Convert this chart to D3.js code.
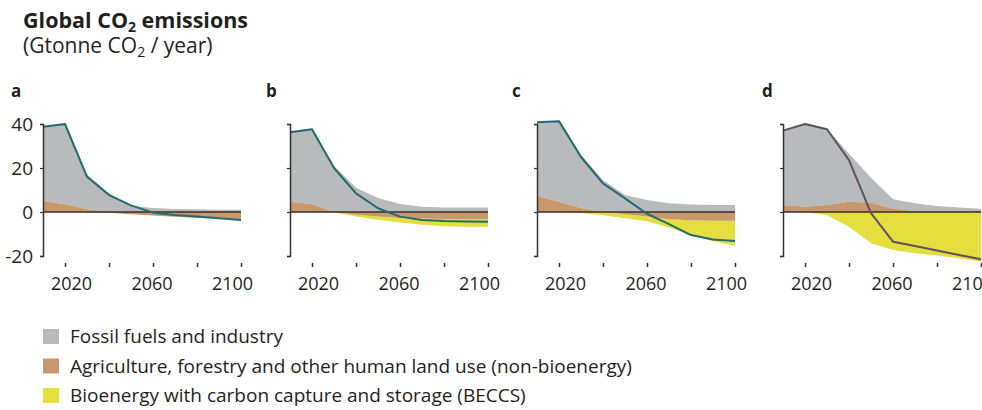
<!DOCTYPE html>
<html>
<head>
<meta charset="utf-8">
<script src="https://cdn.jsdelivr.net/npm/d3@7"></script>
<style>
  body { margin: 0; background: #fff; }
  svg { font-family: "Open Sans", sans-serif; fill: #231f20; }
</style>
</head>
<body>
<div id="chart"></div>
<script>
// years shared by all four pathways
var years = [2010, 2020, 2030, 2040, 2050, 2060, 2070, 2080, 2090, 2100];
var xTicks = [2020, 2040, 2060, 2080, 2100];
var xTickLabels = [2020, 2060, 2100];
var yTicks = [40, 20, 0, -20];
var panelLetters = ["a", "b", "c", "d"];

// Gt CO2 / year
var fossilA = [33.8, 36.5, 15.8, 8.5, 2.8, 1.8, 1.4, 1.2, 1.0, 1.0];
var landA   = [5.0, 3.5, 1.2, -0.3, -1.0, -1.6, -2.2, -2.7, -3.0, -3.2];
var beccsA  = [0, 0, 0, 0, 0, 0, 0, 0, 0, 0];
var netA    = [38.8, 40, 16, 7.7, 3.0, -0.3, -1.4, -2.1, -2.8, -3.6];

var fossilB = [31.5, 34.1, 21, 11, 6.4, 3.6, 2.4, 2.0, 2.0, 2.0];
var landB   = [4.7, 3.5, 0, -1.2, -2.0, -2.7, -3.0, -3.2, -3.3, -3.3];
var beccsB  = [0, 0, -0.2, -0.8, -1.5, -2.1, -2.8, -3.3, -3.4, -3.4];
var netB    = [36.2, 37.6, 20, 8.5, 1.7, -2.1, -3.6, -4.1, -4.3, -4.4];

var fossilC = [33.5, 36.6, 24.2, 14.5, 7.7, 5.5, 4.0, 3.4, 3.2, 3.2];
var landC   = [7.3, 4.7, 1.8, 0, -1.0, -2.0, -3.3, -3.8, -4.0, -4.0];
var beccsC  = [0, 0, -0.5, -1.5, -1.8, -2.2, -3.7, -6.9, -9.3, -11.3];
var netC    = [40.8, 41.3, 25, 13, 6.2, -0.8, -5.5, -10.5, -12.5, -13.2];

var fossilD = [33.8, 37.6, 34.4, 21.8, 11.4, 4.3, 3.5, 2.2, 1.5, 1.0];
var landD   = [3.2, 2.4, 3.2, 4.7, 4.2, 1.5, 0.5, 0.5, 0.5, 0.5];
var beccsD  = [0, 0, -1.5, -6.7, -14.2, -17.3, -18.8, -19.8, -21, -22.6];
var netD    = [37, 40, 37.6, 23.6, -0.5, -13.5, -15.5, -17.5, -19.5, -21.5];

var legendLabels = ["Fossil fuels and industry",
                    "Agriculture, forestry and other human land use (non-bioenergy)",
                    "Bioenergy with carbon capture and storage (BECCS)"];

var colFossil = "#b9babc", colLand = "#c6986c", colBeccs = "#e4de3e";
var lineCols = ["#1f6c73", "#1f6c73", "#1f6c73", "#5d5260"];

var panels = [
  {fossil: fossilA, land: landA, beccs: beccsA, net: netA},
  {fossil: fossilB, land: landB, beccs: beccsB, net: netB},
  {fossil: fossilC, land: landC, beccs: beccsC, net: netC},
  {fossil: fossilD, land: landD, beccs: beccsD, net: netD}
];
var panelX = [43, 290, 537, 783];
var letterX = [11, 266, 512, 762];

var svg = d3.select("#chart").append("svg").attr("width", 982).attr("height", 410);

// title
var title = svg.append("text").attr("x", 23).attr("y", 28)
    .style("font-weight", "bold").style("font-size", "21.5px");
title.append("tspan").text("Global CO");
title.append("tspan").text("2").style("font-size", "14px").attr("dy", 4);
title.append("tspan").text(" emissions").attr("dy", -4);

var sub = svg.append("text").attr("x", 23).attr("y", 53).style("font-size", "21px");
sub.append("tspan").text("(Gtonne CO");
sub.append("tspan").text("2").style("font-size", "14px").attr("dy", 4);
sub.append("tspan").text(" / year)").attr("dy", -4);

var y = d3.scaleLinear().domain([-20, 40]).range([256, 124]);

panels.forEach(function(p, i) {
  var x = d3.scaleLinear().domain([2010, 2100]).range([panelX[i], panelX[i] + 198]);
  // the year labels sit a little closer together than the ticks
  var xl = d3.scaleLinear().domain([2020, 2100]).range([x(2020) + 6, x(2100) - 9]);
  var g = svg.append("g");

  var rows = years.map(function(yr, k) {
    var lp = Math.max(p.land[k], 0), ln = Math.min(p.land[k], 0);
    return {year: yr, lp: lp, ln: ln, top: lp + p.fossil[k], bot: ln + p.beccs[k], net: p.net[k]};
  });

  function band(lo, hi) {
    return d3.area().x(function(d) { return x(d.year); })
      .y0(function(d) { return y(lo(d)); })
      .y1(function(d) { return y(hi(d)); });
  }

  g.append("path").datum(rows).attr("fill", colFossil)
    .attr("d", band(function(d) { return d.lp; }, function(d) { return d.top; }));
  g.append("path").datum(rows).attr("fill", colLand)
    .attr("d", band(function() { return 0; }, function(d) { return d.lp; }));
  g.append("path").datum(rows).attr("fill", colBeccs)
    .attr("d", band(function(d) { return d.ln; }, function(d) { return d.bot; }));
  g.append("path").datum(rows).attr("fill", colLand)
    .attr("d", band(function() { return 0; }, function(d) { return d.ln; }));

  // zero line
  g.append("line").attr("x1", x(2010)).attr("x2", x(2100))
    .attr("y1", y(0)).attr("y2", y(0))
    .attr("stroke", "#3b2c26").attr("stroke-width", 1.5);

  // net emissions
  g.append("path").datum(rows).attr("fill", "none")
    .attr("stroke", lineCols[i]).attr("stroke-width", 2).attr("stroke-linejoin", "round")
    .attr("d", d3.line().x(function(d) { return x(d.year); }).y(function(d) { return y(d.net); }));

  // y axis
  var ya = d3.axisLeft(y).tickValues(yTicks).tickSize(3).tickSizeOuter(3)
    .tickFormat(i === 0 ? function(d) { return d < 0 ? "-" + Math.abs(d) : d; } : "");
  var yg = g.append("g").attr("transform", "translate(" + x(2010) + ",0)").call(ya);
  yg.select(".domain").attr("stroke", "#333").attr("stroke-width", 1.5);
  yg.selectAll(".tick line").attr("stroke", "#333").attr("stroke-width", 1.2);
  yg.selectAll("text").attr("x", -10).style("font-size", "19px")
    .style("font-family", "Open Sans").attr("fill", "#231f20");

  // x axis: tick marks only, no line
  var xg = g.append("g").attr("transform", "translate(0,263)")
    .call(d3.axisBottom(x).tickValues(xTicks).tickSize(4).tickFormat(""));
  xg.select(".domain").remove();
  xg.selectAll(".tick line").attr("stroke", "#333").attr("stroke-width", 1.5);

  // year labels
  var lg = g.append("g").attr("transform", "translate(0,263)")
    .call(d3.axisBottom(xl).tickValues(xTickLabels).tickSize(0).tickPadding(14).tickFormat(d3.format("d")));
  lg.select(".domain").remove();
  lg.selectAll("text").style("font-size", "18px").style("font-family", "Open Sans")
    .attr("fill", "#231f20");

  svg.append("text").attr("x", letterX[i]).attr("y", 97)
    .style("font-weight", "bold").style("font-size", "17px").text(panelLetters[i]);
});

// legend
var legCols = [colFossil, colLand, colBeccs];
var leg = svg.selectAll(".leg").data(legendLabels).enter().append("g")
  .attr("transform", function(d, i) { return "translate(43," + (329 + i * 29.5) + ")"; });
leg.append("rect").attr("width", 16).attr("height", 15)
  .attr("fill", function(d, i) { return legCols[i]; });
leg.append("text").attr("x", 27).attr("y", 14).style("font-size", "19px").text(function(d) { return d; });
</script>
</body>
</html>
